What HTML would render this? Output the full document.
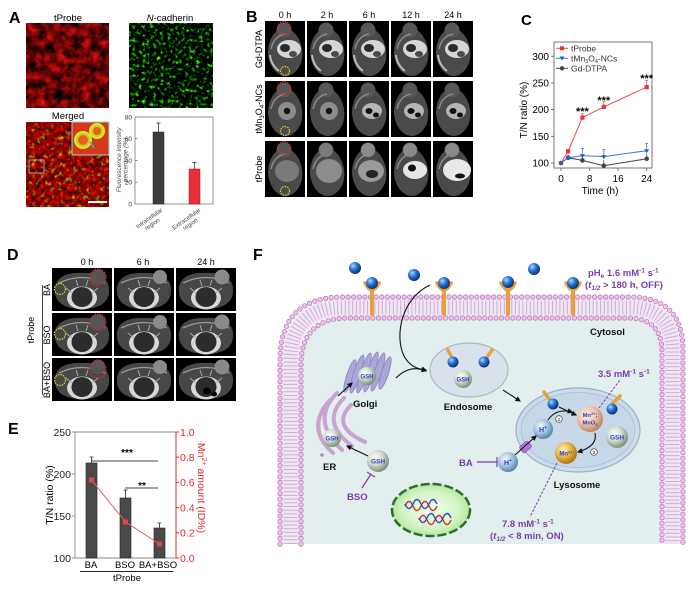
<!DOCTYPE html>
<html><head><meta charset="utf-8">
<style>
html,body{margin:0;padding:0;background:#fff;}
svg{display:block;}
text{font-family:"Liberation Sans",Arial,sans-serif;}
</style></head><body>
<svg width="699" height="589" viewBox="0 0 699 589" xmlns="http://www.w3.org/2000/svg">
<defs>
 <filter id="fRed" x="0" y="0" width="100%" height="100%" color-interpolation-filters="sRGB">
  <feTurbulence type="fractalNoise" baseFrequency="0.11" numOctaves="3" seed="2"/>
  <feColorMatrix type="matrix" values="1.5 0 0 0 -0.35  0.1 0 0 0 -0.03  0.1 0 0 0 -0.03  0 0 0 0 1"/>
 </filter>
 <filter id="fGreen" x="0" y="0" width="100%" height="100%" color-interpolation-filters="sRGB">
  <feTurbulence type="fractalNoise" baseFrequency="0.28" numOctaves="2" seed="7"/>
  <feColorMatrix type="matrix" values="0 1.8 0 0 -1.15  0 3.0 0 0 -1.5  0 0 0 0 0  0 0 0 0 1"/>
 </filter>
 <filter id="fMerge" x="0" y="0" width="100%" height="100%" color-interpolation-filters="sRGB">
  <feTurbulence type="fractalNoise" baseFrequency="0.22" numOctaves="2" seed="11"/>
  <feColorMatrix type="matrix" values="1.2 0 0 0 -0.05  0.35 2.6 0 0 -1.6  0 0 0 0 0  0 0 0 0 1"/>
 </filter>
 <radialGradient id="gBlue" cx="0.35" cy="0.32" r="0.7"><stop offset="0" stop-color="#a8d8ff"/><stop offset="0.45" stop-color="#2a78d6"/><stop offset="1" stop-color="#0a2c74"/></radialGradient>
 <radialGradient id="gGsh" cx="0.38" cy="0.35" r="0.7"><stop offset="0" stop-color="#ffffff"/><stop offset="0.45" stop-color="#d6dece"/><stop offset="1" stop-color="#76866e"/></radialGradient>
 <radialGradient id="gMn" cx="0.38" cy="0.35" r="0.7"><stop offset="0" stop-color="#fff2e8"/><stop offset="0.5" stop-color="#f0c4a8"/><stop offset="1" stop-color="#b87a5c"/></radialGradient>
 <radialGradient id="gMn2" cx="0.38" cy="0.35" r="0.7"><stop offset="0" stop-color="#fff6c8"/><stop offset="0.5" stop-color="#e6b440"/><stop offset="1" stop-color="#a06c10"/></radialGradient>
 <radialGradient id="gH" cx="0.38" cy="0.35" r="0.7"><stop offset="0" stop-color="#f4faff"/><stop offset="0.5" stop-color="#a6c6de"/><stop offset="1" stop-color="#4c7ca4"/></radialGradient>
 <radialGradient id="gNuc" cx="0.5" cy="0.5" r="0.6"><stop offset="0" stop-color="#f4fff0"/><stop offset="0.6" stop-color="#d4f4c4"/><stop offset="1" stop-color="#9edc88"/></radialGradient>
 <marker id="ah" viewBox="0 0 10 10" refX="8" refY="5" markerWidth="5" markerHeight="5" orient="auto"><path d="M0,0 L10,5 L0,10 Z" fill="#111"/></marker>

 <g id="mb">
  <rect width="40" height="56" fill="#000"/>
  <path d="M19,6 C32,9 39,24 37,38 C35,49 27,55 21,55 C12,55 4,46 3,32 C3,19 9,9 19,6Z" fill="#4a4a4a"/>
  <circle cx="19" cy="9" r="7.5" fill="#575757"/>
  <path d="M6,28 Q9,15 20,13" stroke="#8a8a8a" stroke-width="1.5" fill="none"/>
 </g>
 <g id="gd">
  <ellipse cx="24" cy="28" rx="12" ry="9" fill="#d6d6d6"/>
  <ellipse cx="20" cy="27" rx="5" ry="4" fill="#2a2a2a"/>
  <ellipse cx="28" cy="33" rx="4" ry="3" fill="#4a4a4a"/>
  <path d="M5,34 Q6,44 14,50" stroke="#bbb" stroke-width="2" fill="none"/>
 </g>
 <g id="mn">
  <ellipse cx="22" cy="30" rx="9" ry="9" fill="#8c8c8c"/>
  <circle cx="22" cy="30" r="3.2" fill="#111"/>
 </g>
 <g id="mn2">
  <ellipse cx="23" cy="30" rx="10" ry="8" fill="#b4b4b4"/>
  <ellipse cx="20" cy="30" rx="3.5" ry="3" fill="#111"/>
  <ellipse cx="27" cy="34" rx="3" ry="2.5" fill="#111"/>
 </g>
 <g id="md">
  <rect width="60" height="43" fill="#000"/>
  <path d="M3,23 C2,10 14,4 30,5 C46,4 58,10 57,23 C57,34 48,41 30,41 C12,41 3,34 3,23Z" fill="#474747"/>
  <path d="M7,15 Q30,4 53,15" stroke="#9a9a9a" stroke-width="1.3" fill="none"/>
  <ellipse cx="30" cy="30" rx="15" ry="11.5" fill="#d8d8d8"/>
  <ellipse cx="30" cy="29" rx="10.5" ry="10" fill="#2c2c2c"/>
  <path d="M14,20 L20,25 M46,20 L40,25 M24,12 L26,18 M36,12 L34,18" stroke="#aaa" stroke-width="1"/>
 </g>
</defs>
<rect width="699" height="589" fill="#fff"/>

<!-- ================= PANEL A ================= -->
<text x="9" y="23" font-size="16" font-weight="bold">A</text>
<text x="68" y="21" font-size="9.5" text-anchor="middle">tProbe</text>
<text x="170" y="21" font-size="9.5" text-anchor="middle"><tspan font-style="italic">N</tspan>-cadherin</text>
<rect x="26" y="23" width="83" height="85" filter="url(#fRed)"/>
<rect x="129" y="23" width="84" height="85" filter="url(#fGreen)"/>
<text x="68" y="119" font-size="9.5" text-anchor="middle">Merged</text>
<rect x="26" y="122" width="83" height="85" filter="url(#fMerge)"/>
<rect x="72" y="122" width="37" height="33" fill="#d8381a" stroke="#8fd8d0" stroke-width="1"/>
<circle cx="83" cy="140" r="8" fill="#c8d020" stroke="#d8e830" stroke-width="2"/>
<circle cx="83" cy="140" r="5" fill="#e86020"/>
<circle cx="97" cy="131" r="7" fill="#c8d020" stroke="#d8e830" stroke-width="2"/>
<circle cx="97" cy="131" r="4" fill="#e86020"/>
<path d="M94,148 L90,142" stroke="#40b0e0" stroke-width="1.5"/>
<rect x="29" y="160" width="15" height="13" fill="none" stroke="#9cc" stroke-width="0.8"/>
<rect x="88" y="201" width="19" height="2" fill="#fff"/>
<rect x="135" y="117" width="78" height="87" fill="none" stroke="#777" stroke-width="0.8"/>
<g stroke="#777" stroke-width="0.8">
 <line x1="135" y1="117" x2="137.5" y2="117"/><line x1="135" y1="138.75" x2="137.5" y2="138.75"/><line x1="135" y1="160.5" x2="137.5" y2="160.5"/><line x1="135" y1="182.25" x2="137.5" y2="182.25"/>
</g>
<g font-size="6.5" text-anchor="end" fill="#333">
 <text x="132" y="119.5">80</text><text x="132" y="141">60</text><text x="132" y="163">40</text><text x="132" y="184.5">20</text><text x="132" y="206.5">0</text>
</g>
<text transform="translate(121,160) rotate(-90)" font-size="6.5" text-anchor="middle" fill="#444" font-style="italic">Fluorescence intensity</text>
<text transform="translate(127.5,160) rotate(-90)" font-size="6.5" text-anchor="middle" fill="#444" font-style="italic">percentage (%)</text>
<rect x="153" y="132" width="11" height="72" fill="#3e3e3e" stroke="#222" stroke-width="0.5"/>
<rect x="189" y="169" width="11" height="35" fill="#e8303a" stroke="#a01010" stroke-width="0.5"/>
<path d="M158.5,132 V123 M156.5,123 H160.5 M194.5,169 V162.5 M192.5,162.5 H196.5" stroke="#222" stroke-width="0.7"/>
<g font-size="6" fill="#444" text-anchor="end">
 <text transform="translate(163,211) rotate(-35)">Intracellular<tspan x="-8" dy="6.5">region</tspan></text>
 <text transform="translate(201,211) rotate(-35)">Extracellular<tspan x="-8" dy="6.5">region</tspan></text>
</g>

<!-- ================= PANEL B ================= -->
<text x="246" y="22" font-size="16" font-weight="bold">B</text>
<g font-size="9" text-anchor="middle">
 <text x="285" y="18">0 h</text><text x="327" y="18">2 h</text><text x="369" y="18">6 h</text><text x="411" y="18">12 h</text><text x="453" y="18">24 h</text>
</g>
<g font-size="9" text-anchor="middle">
 <text transform="translate(262,49) rotate(-90)">Gd-DTPA</text>
 <text transform="translate(262,109) rotate(-90)">tMn<tspan font-size="6" dy="2">3</tspan><tspan dy="-2">O</tspan><tspan font-size="6" dy="2">4</tspan><tspan dy="-2">-NCs</tspan></text>
 <text transform="translate(262,169) rotate(-90)">tProbe</text>
</g>
<use href="#mb" x="265" y="21"/><use href="#gd" x="265" y="21"/>
<use href="#mb" x="307" y="21"/><use href="#gd" x="307" y="21"/>
<use href="#mb" x="349" y="21"/><use href="#gd" x="349" y="21"/>
<use href="#mb" x="391" y="21"/><use href="#gd" x="391" y="21"/>
<use href="#mb" x="433" y="21"/><use href="#gd" x="433" y="21"/>
<use href="#mb" x="265" y="81"/><use href="#mn" x="265" y="81"/>
<use href="#mb" x="307" y="81"/><use href="#mn" x="307" y="81"/>
<use href="#mb" x="349" y="81"/><use href="#mn2" x="349" y="81"/>
<use href="#mb" x="391" y="81"/><use href="#mn2" x="391" y="81"/>
<use href="#mb" x="433" y="81"/><use href="#mn2" x="433" y="81"/>
<use href="#mb" x="265" y="141"/><ellipse cx="287" cy="171" rx="12" ry="11" fill="#7a7a7a"/>
<use href="#mb" x="307" y="141"/><ellipse cx="329" cy="171" rx="13" ry="12" fill="#8c8c8c"/><circle cx="326" cy="150" r="7" fill="#7a7a7a"/>
<use href="#mb" x="349" y="141"/><ellipse cx="371" cy="171" rx="13" ry="11" fill="#9a9a9a"/><ellipse cx="372" cy="174" rx="6" ry="4" fill="#222"/><circle cx="368" cy="150" r="7" fill="#8a8a8a"/>
<use href="#mb" x="391" y="141"/><ellipse cx="415" cy="170" rx="12" ry="9" fill="#e6e6e6"/><ellipse cx="412" cy="168" rx="4" ry="3.5" fill="#111"/><circle cx="410" cy="150" r="7" fill="#8a8a8a"/>
<use href="#mb" x="433" y="141"/><ellipse cx="457" cy="170" rx="14" ry="11" fill="#e8e8e8"/><ellipse cx="460" cy="176" rx="5" ry="2.5" fill="#111"/><circle cx="452" cy="150" r="7" fill="#8a8a8a"/>
<g fill="none" stroke-width="1.2" stroke-dasharray="1.6 1">
 <circle cx="284" cy="28" r="6.5" stroke="#e02828"/><circle cx="285" cy="71" r="4.5" stroke="#e8d020"/>
 <circle cx="284" cy="88" r="6.5" stroke="#e02828"/><circle cx="285" cy="131" r="4.5" stroke="#e8d020"/>
 <circle cx="284" cy="148" r="6.5" stroke="#e02828"/><circle cx="285" cy="191" r="4.5" stroke="#e8d020"/>
</g>

<!-- ================= PANEL C ================= -->
<text x="521" y="25" font-size="15" font-weight="bold">C</text>
<rect x="554" y="42" width="98" height="126" fill="none" stroke="#666" stroke-width="0.9"/>
<g stroke="#666" stroke-width="0.9">
 <line x1="554" y1="56.2" x2="551" y2="56.2"/><line x1="554" y1="82.9" x2="551" y2="82.9"/><line x1="554" y1="109.6" x2="551" y2="109.6"/><line x1="554" y1="136.3" x2="551" y2="136.3"/><line x1="554" y1="163" x2="551" y2="163"/>
 <line x1="561" y1="168" x2="561" y2="171"/><line x1="589.6" y1="168" x2="589.6" y2="171"/><line x1="618.1" y1="168" x2="618.1" y2="171"/><line x1="646.7" y1="168" x2="646.7" y2="171"/>
</g>
<g font-size="10" text-anchor="end">
 <text x="549" y="60">300</text><text x="549" y="86.5">250</text><text x="549" y="113">200</text><text x="549" y="140">150</text><text x="549" y="166.5">100</text>
</g>
<g font-size="10" text-anchor="middle">
 <text x="561" y="182">0</text><text x="589.6" y="182">8</text><text x="618.1" y="182">16</text><text x="646.7" y="182">24</text>
</g>
<text x="600" y="194" font-size="10" text-anchor="middle">Time (h)</text>
<text transform="translate(527,110) rotate(-90)" font-size="10" text-anchor="middle">T/N ratio (%)</text>
<g stroke="#555" stroke-width="0.8" fill="none">
 <path d="M568.1,157.7 V154.5 M582.4,160.4 V157 M603.8,165.7 V160 M646.7,158.8 V154"/>
 <polyline points="561,163 568.1,157.7 582.4,160.4 603.8,165.7 646.7,158.8" stroke="#444" stroke-width="1"/>
</g>
<g fill="#444"><circle cx="561" cy="163" r="2.3"/><circle cx="568.1" cy="157.7" r="2.3"/><circle cx="582.4" cy="160.4" r="2.3"/><circle cx="603.8" cy="165.7" r="2.3"/><circle cx="646.7" cy="158.8" r="2.3"/></g>
<g stroke="#3a78d8" stroke-width="0.8" fill="none">
 <path d="M582.4,155.6 V148.5 M580.9,148.5 H583.9 M603.8,156.6 V149.5 M602.3,149.5 H605.3 M646.7,150.7 V143.5 M645.2,143.5 H648.2 M568.1,157.7 V155"/>
 <polyline points="561,163 568.1,157.7 582.4,155.6 603.8,156.6 646.7,150.7" stroke-width="1"/>
</g>
<g fill="#1f5fcf">
 <path d="M558.5,161.5 h5 l-2.5,4z M565.6,156.2 h5 l-2.5,4z M579.9,154.1 h5 l-2.5,4z M601.3,155.1 h5 l-2.5,4z M644.2,149.2 h5 l-2.5,4z"/>
</g>
<g stroke="#e84850" stroke-width="0.8" fill="none">
 <path d="M582.4,117.6 V113.9 M580.9,113.9 H583.9 M603.8,106.9 V101.6 M602.3,101.6 H605.3 M646.7,87.1 V80.2 M645.2,80.2 H648.2"/>
 <polyline points="561,163 568.1,151.3 582.4,117.6 603.8,106.9 646.7,87.1" stroke-width="1"/>
</g>
<g fill="#e8323c">
 <rect x="566" y="149.2" width="4.2" height="4.2"/><rect x="580.3" y="115.5" width="4.2" height="4.2"/><rect x="601.7" y="104.8" width="4.2" height="4.2"/><rect x="644.6" y="85" width="4.2" height="4.2"/>
</g>
<g font-size="11" text-anchor="middle" font-weight="bold">
 <text x="582.4" y="115">***</text><text x="603.8" y="104">***</text><text x="646.7" y="82">***</text>
</g>
<line x1="556" y1="48.3" x2="568" y2="48.3" stroke="#e84850" stroke-width="1"/><rect x="560" y="46.3" width="4" height="4" fill="#e8323c"/>
<line x1="556" y1="58.3" x2="568" y2="58.3" stroke="#3a78d8" stroke-width="1"/><path d="M559.5,56.5 h5 l-2.5,4z" fill="#1f5fcf"/>
<line x1="556" y1="68.3" x2="568" y2="68.3" stroke="#444" stroke-width="1"/><circle cx="562" cy="68.3" r="2.2" fill="#444"/>
<g font-size="8.5" fill="#333">
 <text x="571" y="51.3">tProbe</text>
 <text x="571" y="61.3">tMn<tspan font-size="5.5" dy="1.5">3</tspan><tspan dy="-1.5">O</tspan><tspan font-size="5.5" dy="1.5">4</tspan><tspan dy="-1.5">-NCs</tspan></text>
 <text x="571" y="71.3">Gd-DTPA</text>
</g>

<!-- ================= PANEL D ================= -->
<text x="7" y="260" font-size="16" font-weight="bold">D</text>
<g font-size="9" text-anchor="middle">
 <text x="87" y="265">0 h</text><text x="143" y="265">6 h</text><text x="206" y="265">24 h</text>
</g>
<g font-size="9" text-anchor="middle">
 <text transform="translate(50,290) rotate(-90)">BA</text>
 <text transform="translate(50,335) rotate(-90)">BSO</text>
 <text transform="translate(50,380) rotate(-90)">BA+BSO</text>
 <text transform="translate(34,330) rotate(-90)">tProbe</text>
</g>
<line x1="42.5" y1="285" x2="42.5" y2="395" stroke="#333" stroke-width="0.9"/>
<use href="#md" x="52" y="268"/><use href="#md" x="114" y="268"/><use href="#md" x="176" y="268"/>
<use href="#md" x="52" y="313"/><use href="#md" x="114" y="313"/><use href="#md" x="176" y="313"/>
<use href="#md" x="52" y="358"/><use href="#md" x="114" y="358"/><use href="#md" x="176" y="358"/>
<g fill="#555"><circle cx="98" cy="277" r="7.5"/><circle cx="98" cy="322" r="7.5"/><circle cx="98" cy="367" r="7.5"/></g>
<g fill="#8a8a8a"><circle cx="160" cy="277" r="7"/><circle cx="222" cy="277" r="7.5"/><circle cx="160" cy="322" r="7"/><circle cx="222" cy="322" r="7.5"/><circle cx="160" cy="367" r="7"/><circle cx="222" cy="367" r="7.5"/></g>
<ellipse cx="207" cy="391" rx="4" ry="3.5" fill="#000"/><ellipse cx="214" cy="394" rx="3" ry="2.5" fill="#000"/>
<g fill="none" stroke-width="1.2" stroke-dasharray="1.6 1">
 <circle cx="98" cy="277" r="8" stroke="#e02828"/><circle cx="60" cy="289" r="5.5" stroke="#e8d020"/>
 <circle cx="98" cy="322" r="8" stroke="#e02828"/><circle cx="60" cy="334" r="5.5" stroke="#e8d020"/>
 <circle cx="98" cy="370" r="8" stroke="#e02828"/><circle cx="60" cy="380" r="5.5" stroke="#e8d020"/>
</g>

<!-- ================= PANEL E ================= -->
<text x="8" y="434" font-size="16" font-weight="bold">E</text>
<path d="M75,432 H176 M75,432 V558 H176" fill="none" stroke="#888" stroke-width="0.9"/>
<line x1="176" y1="432" x2="176" y2="558" stroke="#e02828" stroke-width="1"/>
<g stroke="#888" stroke-width="0.9"><line x1="72" y1="432" x2="75" y2="432"/><line x1="72" y1="474" x2="75" y2="474"/><line x1="72" y1="516" x2="75" y2="516"/><line x1="72" y1="558" x2="75" y2="558"/></g>
<g stroke="#e02828" stroke-width="1"><line x1="176" y1="432" x2="179" y2="432"/><line x1="176" y1="457.2" x2="179" y2="457.2"/><line x1="176" y1="482.4" x2="179" y2="482.4"/><line x1="176" y1="507.6" x2="179" y2="507.6"/><line x1="176" y1="532.8" x2="179" y2="532.8"/><line x1="176" y1="558" x2="179" y2="558"/></g>
<g font-size="10.5" text-anchor="end" fill="#222">
 <text x="71" y="436">250</text><text x="71" y="478">200</text><text x="71" y="520">150</text><text x="71" y="562">100</text>
</g>
<g font-size="10.5" fill="#e02828">
 <text x="180" y="436">1.0</text><text x="180" y="461">0.8</text><text x="180" y="486">0.6</text><text x="180" y="511.5">0.4</text><text x="180" y="536.5">0.2</text><text x="180" y="562">0.0</text>
</g>
<text transform="translate(53,495) rotate(-90)" font-size="10.5" text-anchor="middle">T/N ratio (%)</text>
<text transform="translate(198,488) rotate(90)" font-size="10.5" text-anchor="middle" fill="#e02828">Mn<tspan font-size="7" dy="-4">2+</tspan><tspan dy="4"> amount (ID%)</tspan></text>
<g fill="#4a4a4a" stroke="#222" stroke-width="0.6">
 <rect x="86" y="463" width="11" height="95"/><rect x="120" y="498" width="11" height="60"/><rect x="154" y="528" width="11" height="30"/>
</g>
<path d="M91.5,463 V457 M89.5,457 H93.5 M125.5,498 V490 M123.5,490 H127.5 M159.5,528 V523 M157.5,523 H161.5" stroke="#222" stroke-width="0.8"/>
<polyline points="91.5,480 125.5,522 159.5,544" fill="none" stroke="#e86060" stroke-width="1"/>
<g fill="#e04848"><rect x="89" y="477.5" width="5" height="5"/><rect x="123" y="519.5" width="5" height="5"/><rect x="157" y="541.5" width="5" height="5"/></g>
<line x1="92" y1="461" x2="158" y2="461" stroke="#444" stroke-width="0.9"/>
<line x1="125" y1="488" x2="158" y2="488" stroke="#444" stroke-width="0.9"/>
<text x="127" y="456" font-size="10" text-anchor="middle" font-weight="bold">***</text>
<text x="142" y="489" font-size="10" text-anchor="middle" font-weight="bold">**</text>
<g font-size="9.5" text-anchor="middle">
 <text x="91" y="568">BA</text><text x="125" y="568">BSO</text><text x="158" y="568">BA+BSO</text>
 <text x="127" y="581">tProbe</text>
</g>
<line x1="80" y1="571.5" x2="173" y2="571.5" stroke="#222" stroke-width="0.9"/>

<!-- ================= PANEL F ================= -->
<text x="253" y="260" font-size="16" font-weight="bold">F</text>
<path d="M301,544 L301,365 Q301,318 348,318 L628,318 Q662,318 662,352 L662,544 Z" fill="#e3eeee"/>
<path d="M290.5,544 L290.5,362 Q290.5,307.5 345,307.5 L629,307.5 Q672.5,307.5 672.5,351 L672.5,544" fill="none" stroke="#f1e6f3" stroke-width="18"/>
<path d="M290.5,544 L290.5,362 Q290.5,307.5 345,307.5 L629,307.5 Q672.5,307.5 672.5,351 L672.5,544" fill="none" stroke="#cfaed6" stroke-width="14" stroke-dasharray="1 2.7"/>
<g fill="none" stroke-linecap="round" stroke-dasharray="0 5.6">
 <path d="M280,544 L280,360 Q280,297 343,297 L630,297 Q683,297 683,350 L683,544" stroke="#b67cb8" stroke-width="5.2"/>
 <path d="M280,544 L280,360 Q280,297 343,297 L630,297 Q683,297 683,350 L683,544" stroke="#f2c4ee" stroke-width="3.6"/>
 <path d="M301,544 L301,365 Q301,318 348,318 L628,318 Q662,318 662,352 L662,544" stroke="#b67cb8" stroke-width="5.2"/>
 <path d="M301,544 L301,365 Q301,318 348,318 L628,318 Q662,318 662,352 L662,544" stroke="#f2c4ee" stroke-width="3.6"/>
</g>
<g stroke="#e8a03c" fill="none" stroke-linecap="round">
 <path d="M372,290 V314 M444,290 V314 M508,290 V314 M573,290 V314" stroke-width="4"/>
 <path d="M365,283 Q372,297 379,283 M437,283 Q444,297 451,283 M501,283 Q508,297 515,283 M566,283 Q573,297 580,283" stroke-width="3.5"/>
</g>
<g fill="url(#gBlue)">
 <circle cx="372" cy="283" r="6"/><circle cx="444" cy="283" r="6"/><circle cx="508" cy="282" r="6"/><circle cx="573" cy="283" r="6"/>
 <circle cx="355" cy="268" r="6"/><circle cx="414" cy="275" r="6"/><circle cx="534" cy="269" r="6"/>
</g>
<g font-size="9.5" font-weight="bold" fill="#7a3ea8">
 <text x="588" y="276">pH<tspan font-size="6.5" dy="2">e</tspan><tspan dy="-2"> 1.6 mM</tspan><tspan font-size="6.5" dy="-3.5">-1</tspan><tspan dy="3.5"> s</tspan><tspan font-size="6.5" dy="-3.5">-1</tspan></text>
 <text x="585" y="288">(<tspan font-style="italic">t</tspan><tspan font-size="6.5" dy="2" font-style="italic">1/2</tspan><tspan dy="-2"> &gt; 180 h, OFF)</tspan></text>
 <text x="598" y="377">3.5 mM<tspan font-size="6.5" dy="-3.5">-1</tspan><tspan dy="3.5"> s</tspan><tspan font-size="6.5" dy="-3.5">-1</tspan></text>
 <text x="502" y="527">7.8 mM<tspan font-size="6.5" dy="-3.5">-1</tspan><tspan dy="3.5"> s</tspan><tspan font-size="6.5" dy="-3.5">-1</tspan></text>
 <text x="490" y="539">(<tspan font-style="italic">t</tspan><tspan font-size="6.5" dy="2" font-style="italic">1/2</tspan><tspan dy="-2"> &lt; 8 min, ON)</tspan></text>
 <text x="347" y="500">BSO</text>
 <text x="459" y="466">BA</text>
</g>
<g font-size="9.5" font-weight="bold" fill="#111">
 <text x="590" y="335">Cytosol</text>
 <text x="468" y="410" text-anchor="middle">Endosome</text>
 <text x="353" y="407">Golgi</text>
 <text x="323" y="470">ER</text>
 <text x="577" y="488" text-anchor="middle">Lysosome</text>
</g>
<path d="M430,285 C402,298 394,335 404,356 Q411,369 426,370" fill="none" stroke="#111" stroke-width="1.1" marker-end="url(#ah)"/>
<path d="M396,378 Q410,364 426,371" fill="none" stroke="#111" stroke-width="1.1" marker-end="url(#ah)"/>
<ellipse cx="469" cy="370" rx="39" ry="27" fill="#d9e1ea" stroke="#a9b9cb" stroke-width="1.2"/>
<g stroke="#e8a03c" fill="none" stroke-linecap="round" stroke-width="3.5">
 <path d="M453,360 L448,350"/><path d="M485,360 L492,350"/>
</g>
<circle cx="453" cy="362" r="5.5" fill="url(#gBlue)"/><circle cx="484" cy="362" r="5.5" fill="url(#gBlue)"/>
<circle cx="463" cy="379" r="9" fill="url(#gGsh)"/>
<text x="463" y="381.5" font-size="6" font-weight="bold" fill="#2b3fc8" text-anchor="middle">GSH</text>
<line x1="503" y1="390" x2="520" y2="401" stroke="#111" stroke-width="1.1" marker-end="url(#ah)"/>
<g fill="#aaa6d8" stroke="#8a84c4" stroke-width="0.8">
 <ellipse cx="350" cy="376" rx="3.5" ry="17" transform="rotate(18 350 376)"/>
 <ellipse cx="357" cy="374" rx="3.5" ry="20" transform="rotate(18 357 374)"/>
 <ellipse cx="364" cy="373" rx="3.5" ry="21" transform="rotate(18 364 373)"/>
 <ellipse cx="371" cy="372" rx="3.5" ry="21" transform="rotate(18 371 372)"/>
 <ellipse cx="378" cy="372" rx="3.5" ry="20" transform="rotate(18 378 372)"/>
 <ellipse cx="385" cy="373" rx="3.5" ry="17" transform="rotate(18 385 373)"/>
</g>
<circle cx="367" cy="376" r="9" fill="url(#gGsh)"/>
<text x="367" y="378.5" font-size="6" font-weight="bold" fill="#2b3fc8" text-anchor="middle">GSH</text>
<line x1="338" y1="396" x2="352" y2="383" stroke="#111" stroke-width="1.1" marker-end="url(#ah)"/>
<g fill="none" stroke="#c9a2cf" stroke-width="4" stroke-linecap="round">
 <path d="M337,393 Q310,420 342,450"/>
 <path d="M344,398 Q320,422 352,446"/>
 <path d="M351,405 Q330,426 365,442"/>
 <path d="M330,400 Q305,428 333,453"/>
</g>
<circle cx="322" cy="455" r="1.8" fill="#b08ab8"/>
<circle cx="332" cy="438" r="9" fill="url(#gGsh)"/>
<text x="332" y="440.5" font-size="6" font-weight="bold" fill="#2b3fc8" text-anchor="middle">GSH</text>
<circle cx="378" cy="461" r="11" fill="url(#gGsh)"/>
<text x="378" y="463.5" font-size="6.5" font-weight="bold" fill="#2b3fc8" text-anchor="middle">GSH</text>
<line x1="368" y1="456" x2="347" y2="446" stroke="#111" stroke-width="1.1" marker-end="url(#ah)"/>
<path d="M362,488 L371,474 M367,472 L375,477" stroke="#7a3ea8" stroke-width="1.2"/>
<ellipse cx="431" cy="510" rx="39" ry="26" fill="url(#gNuc)" stroke="#2c6e2c" stroke-width="2.5" stroke-dasharray="9 3"/>
<g fill="none" stroke-width="1.4">
 <path d="M405,506 q4,-9 8,0 t8,0 t8,0 t8,0" stroke="#d03030"/>
 <path d="M405,504 q4,9 8,0 t8,0 t8,0 t8,0" stroke="#3048c0"/>
 <path d="M419,520 q4,-9 8,0 t8,0 t8,0 t8,0" stroke="#d03030"/>
 <path d="M419,518 q4,9 8,0 t8,0 t8,0 t8,0" stroke="#3048c0"/>
</g>
<ellipse cx="578" cy="430" rx="62" ry="42" fill="#cddcea" stroke="#9ab0c8" stroke-width="1.2"/>
<ellipse cx="578" cy="430" rx="57" ry="37.5" fill="#c6d7e8" stroke="#a8bcd2" stroke-width="0.8"/>
<g stroke="#e8a03c" fill="none" stroke-linecap="round" stroke-width="3.5">
 <path d="M550,400 L544,392"/><path d="M612,404 L620,396"/>
</g>
<circle cx="553" cy="404" r="5.5" fill="url(#gBlue)"/><circle cx="612" cy="409" r="5.5" fill="url(#gBlue)"/>
<line x1="559" y1="407" x2="576" y2="415" stroke="#111" stroke-width="1.1" marker-end="url(#ah)"/>
<path d="M548,420 Q556,408 572,412" fill="none" stroke="#111" stroke-width="1.1" marker-end="url(#ah)"/>
<circle cx="559" cy="419" r="3.3" fill="#fff" stroke="#222" stroke-width="0.6"/><text x="559" y="421" font-size="4.5" text-anchor="middle">1</text>
<path d="M595,433 Q598,446 578,452" fill="none" stroke="#111" stroke-width="1.1" marker-end="url(#ah)"/>
<circle cx="594" cy="452" r="3.3" fill="#fff" stroke="#222" stroke-width="0.6"/><text x="594" y="454" font-size="4.5" text-anchor="middle">2</text>
<circle cx="543" cy="429" r="10" fill="url(#gH)"/>
<text x="543" y="432" font-size="7" font-weight="bold" fill="#2b3fc8" text-anchor="middle">H<tspan font-size="5" dy="-3">+</tspan></text>
<circle cx="590" cy="419" r="13" fill="url(#gMn)"/>
<text x="590" y="417" font-size="5.8" font-weight="bold" fill="#2b3fc8" text-anchor="middle">Mn<tspan font-size="4" dy="-2">2+</tspan><tspan dy="2">;</tspan></text>
<text x="590" y="424.5" font-size="5.8" font-weight="bold" fill="#2b3fc8" text-anchor="middle">MnO<tspan font-size="4" dy="1.5">2</tspan></text>
<circle cx="617" cy="437" r="11" fill="url(#gGsh)"/>
<text x="617" y="439.5" font-size="6.5" font-weight="bold" fill="#2b3fc8" text-anchor="middle">GSH</text>
<circle cx="566" cy="453" r="11" fill="url(#gMn2)"/>
<text x="566" y="455.5" font-size="6" font-weight="bold" fill="#2b3fc8" text-anchor="middle">Mn<tspan font-size="4" dy="-2">2+</tspan></text>
<circle cx="508" cy="462" r="10" fill="url(#gH)"/>
<text x="508" y="465" font-size="7" font-weight="bold" fill="#2b3fc8" text-anchor="middle">H<tspan font-size="5" dy="-3">+</tspan></text>
<rect x="520" y="443" width="11" height="8" rx="2" fill="#b070d8" stroke="#8a4ab8" stroke-width="0.6" transform="rotate(-40 525.5 447)"/>
<line x1="515" y1="455" x2="536" y2="436" stroke="#111" stroke-width="1.1" marker-end="url(#ah)"/>
<path d="M477,462 H497 M497,457 V467" stroke="#7a3ea8" stroke-width="1.2" fill="none"/>
<line x1="599" y1="408" x2="620" y2="380" stroke="#7a3ea8" stroke-width="1" stroke-dasharray="2.5 1.5"/>
<line x1="557" y1="463" x2="530" y2="517" stroke="#7a3ea8" stroke-width="1" stroke-dasharray="2.5 1.5"/>
</svg>
</body></html>
